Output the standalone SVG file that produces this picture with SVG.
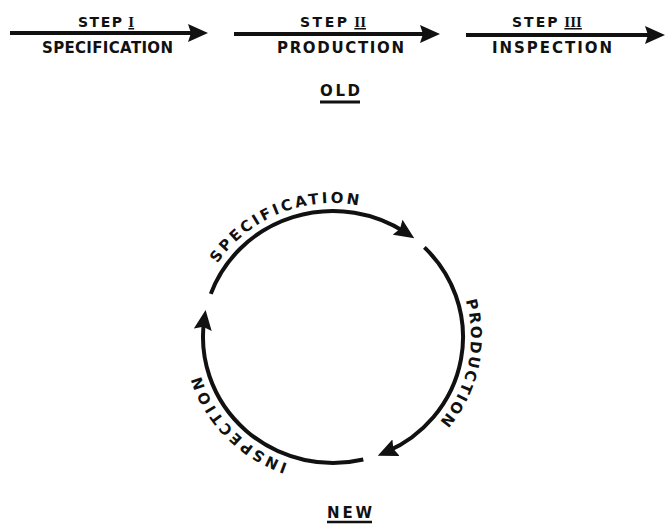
<svg xmlns="http://www.w3.org/2000/svg" width="666" height="525" viewBox="0 0 666 525">
<style>
  .t{font-family:"DejaVu Sans","Liberation Sans",sans-serif;font-weight:bold;font-size:14px;fill:#111111}
  .big{font-size:15px}
  .num{font-family:"Liberation Serif","DejaVu Serif",serif;font-weight:bold;font-size:15px;text-decoration:underline}
  .con{fill:none;stroke:#111111;stroke-width:4;marker-end:url(#ah)}
  .ul{stroke:#111111;stroke-width:3}
</style>
<defs>
  <marker id="ah" markerUnits="userSpaceOnUse" viewBox="0 0 20 18" markerWidth="20" markerHeight="18" refX="10" refY="9" orient="auto">
    <path d="M0,0 L20,9 L0,18 L3,9 z" fill="#111111"/>
  </marker>
  <path id="tp-spec" d="M217.5,263.6 A138,134 0 0 1 402,221"/>
  <path id="tp-prod" d="M465.7,300.3 A138,134 0 0 1 402,453"/>
  <path id="tp-insp" d="M287.6,463.6 A138,134 0 0 1 203.3,291.2"/>
</defs>
<rect width="666" height="525" fill="#ffffff"/>

<g id="connectors">
  <path class="con" d="M10,33 H198"/>
  <path class="con" d="M234,34 H430"/>
  <path class="con" d="M466,35 H655"/>
  <path class="con" d="M210.8,293.9 A130,126 0 0 1 405.9,232.7"/>
  <path class="con" d="M424.4,247.4 A130,126 0 0 1 386.9,451.7"/>
  <path class="con" d="M363.3,459.5 A130,126 0 0 1 204.2,319.9"/>
</g>

<g id="step1">
  <text class="t" x="78" y="27"><tspan letter-spacing="1.5">STEP</tspan> <tspan class="num">I</tspan></text>
  <text class="t big" x="42" y="53" textLength="131" lengthAdjust="spacing">SPECIFICATION</text>
</g>
<g id="step2">
  <text class="t" x="300" y="27"><tspan letter-spacing="2.5">STEP</tspan> <tspan class="num">II</tspan></text>
  <text class="t big" x="277" y="53" textLength="127" lengthAdjust="spacing">PRODUCTION</text>
</g>
<g id="step3">
  <text class="t" x="512" y="27"><tspan letter-spacing="2">STEP</tspan> <tspan class="num">III</tspan></text>
  <text class="t big" x="492" y="53" textLength="120" lengthAdjust="spacing">INSPECTION</text>
</g>
<g id="label-old">
  <text class="t big" x="320" y="96" textLength="40" lengthAdjust="spacing">OLD</text>
  <line class="ul" x1="320" y1="102" x2="360" y2="102"/>
</g>

<g id="node-specification">
  <text class="t big" letter-spacing="2.85"><textPath href="#tp-spec">SPECIFICATION</textPath></text>
</g>
<g id="node-production">
  <text class="t big" letter-spacing="1.9"><textPath href="#tp-prod">PRODUCTION</textPath></text>
</g>
<g id="node-inspection">
  <text class="t big" letter-spacing="2.85"><textPath href="#tp-insp">INSPECTION</textPath></text>
</g>
<g id="label-new">
  <text class="t big" x="327" y="518" textLength="45" lengthAdjust="spacing">NEW</text>
  <line class="ul" x1="327" y1="522" x2="372" y2="522" style="stroke-width:2.5"/>
</g>
</svg>
